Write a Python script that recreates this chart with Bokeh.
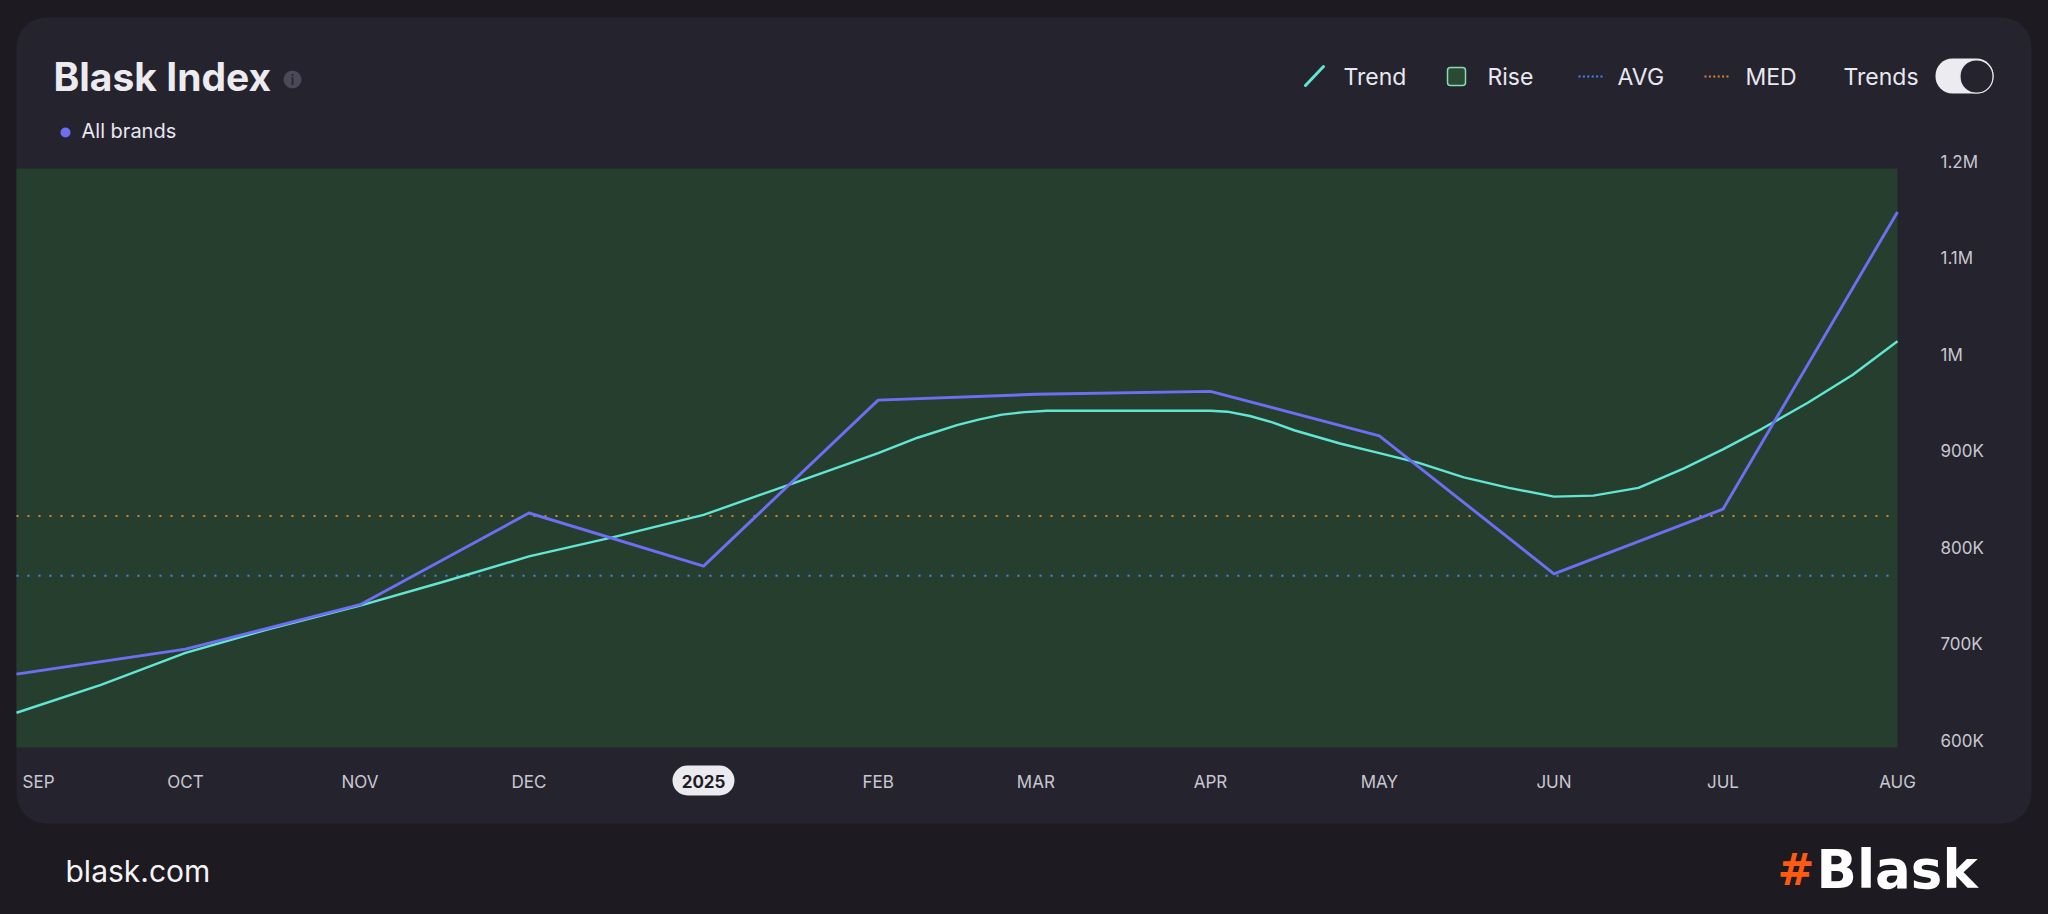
import datetime as dt
from bokeh.plotting import figure
from bokeh.models import Range1d, BoxAnnotation, Label
from bokeh.core.properties import value
from bokeh.embed import file_html
from bokeh.resources import INLINE

# ---------------- data ----------------
month_dates = ["2024-09-01", "2024-10-01", "2024-11-01", "2024-12-01", "2025-01-01",
               "2025-02-01", "2025-03-01", "2025-04-01", "2025-05-01", "2025-06-01",
               "2025-07-01", "2025-08-01"]
month_labels = ["SEP", "OCT", "NOV", "DEC", "2025", "FEB", "MAR", "APR", "MAY",
                "JUN", "JUL", "AUG"]
all_brands = [676000, 702000, 748000, 843000, 788000, 960000, 966000, 969000,
              923000, 780000, 847000, 1155000]

trend_dates = ["2024-09-01", "2024-09-16", "2024-10-01", "2024-10-16", "2024-11-01",
               "2024-11-16", "2024-12-01", "2024-12-16", "2025-01-01", "2025-01-16",
               "2025-02-01", "2025-02-08", "2025-02-15", "2025-02-19", "2025-02-23",
               "2025-02-27", "2025-03-03", "2025-03-16", "2025-04-01", "2025-04-04",
               "2025-04-08", "2025-04-12", "2025-04-16", "2025-04-24", "2025-05-01",
               "2025-05-08", "2025-05-16", "2025-05-24", "2025-06-01", "2025-06-08",
               "2025-06-16", "2025-06-24", "2025-07-01", "2025-07-08", "2025-07-16",
               "2025-07-24", "2025-08-01"]
trend_values = [636000, 665000, 698000, 723000, 747000, 772000, 798000, 818000,
                841000, 872000, 905000, 921000, 934000, 940000, 945000, 947500,
                949000, 949000, 949000, 948000, 943500, 937000, 928500, 915000,
                905000, 895000, 880000, 869000, 860000, 861000, 869000, 889000,
                909000, 930500, 957000, 986000, 1021000]

avg_value = 778000
med_value = 840000

y_min, y_max = 600000, 1200000
y_ticks = [600000, 700000, 800000, 900000, 1000000, 1100000, 1200000]
y_tick_labels = ["600K", "700K", "800K", "900K", "1M", "1.1M", "1.2M"]

# ---------------- styling ----------------
PAGE_BG = "#1d1a21"
CARD_BG = "#25232d"
GREEN = "#263e2e"
PURPLE = "#6d6ff3"
CYAN = "#62e6d4"
AVG_C = "#3f86f5"
MED_C = "#d9832a"
TXT = "#e9e7ef"
AXIS_TXT = "#c9c7d1"
FONT = "Inter"

W, H = 2040, 906              # canvas (page pixels, canvas at page origin)
PLOT_L, PLOT_R = 16, 1897     # rise/plot area in page pixels
PLOT_T, PLOT_B = 168, 747


def ms(s):
    return (dt.datetime.fromisoformat(s) - dt.datetime(1970, 1, 1)).total_seconds() * 1000.0


month_x = [ms(d) for d in month_dates]
trend_x = [ms(d) for d in trend_dates]

# scales: the frame is the whole canvas, the plot area lies inside it
mpp = (month_x[-1] - month_x[0]) / (PLOT_R - PLOT_L)
vpp = (y_max - y_min) / (PLOT_B - PLOT_T)
x_range = Range1d(month_x[0] - PLOT_L * mpp, month_x[0] + (W - PLOT_L) * mpp)
y_range = Range1d(y_min - (H - PLOT_B) * vpp, y_max + PLOT_T * vpp)

p = figure(x_range=x_range, y_range=y_range, width=W, height=H,
           frame_width=W, frame_height=H, min_border=0,
           x_axis_location=None, y_axis_location=None,
           output_backend="svg", toolbar_location=None)
p.border_fill_color = PAGE_BG
p.background_fill_color = PAGE_BG
p.outline_line_color = None
p.grid.visible = False
p.extra_x_ranges = {"px": Range1d(0, W)}
p.extra_y_ranges = {"py": Range1d(H, 0)}

# card
p.add_layout(BoxAnnotation(left=16, right=2031, top=17, bottom=823, x_range_name="px",
                           y_range_name="py", fill_color=CARD_BG, fill_alpha=1,
                           line_color=None, border_radius=30, level="underlay"))
# year pill (under the tick label text)
p.add_layout(BoxAnnotation(left=672, right=734, top=765, bottom=795, x_range_name="px",
                           y_range_name="py", fill_color="#ebebef", fill_alpha=1,
                           line_color=None, border_radius=15, level="underlay"))

# rise area (whole period)
p.quad(left=[month_x[0]], right=[month_x[-1]], bottom=[y_min], top=[y_max],
       fill_color=GREEN, line_color=None)

# reference lines
p.line([month_x[0], month_x[-1]], [med_value, med_value], line_color=MED_C,
       line_width=2, line_dash="2 9")
p.line([month_x[0], month_x[-1]], [avg_value, avg_value], line_color=AVG_C,
       line_width=2, line_dash="2 9")

# series
p.line(trend_x, trend_values, line_color=CYAN, line_width=2.4, line_join="round")
p.line(month_x, all_brands, line_color=PURPLE, line_width=2.9, line_join="round")

# x tick labels
LBL_Y = 781
idx = [i for i in range(len(month_x)) if i not in (0, 4)]
p.text(x=[month_x[i] for i in idx], y=[LBL_Y] * len(idx),
       text=[month_labels[i] for i in idx], y_range_name="py",
       text_align="center", text_baseline="middle", text_color=AXIS_TXT,
       text_font=value(FONT), text_font_size="17px")
p.text(x=[month_x[0]], y=[LBL_Y], text=[month_labels[0]], y_range_name="py",
       x_offset=6, text_align="left", text_baseline="middle", text_color=AXIS_TXT,
       text_font=value(FONT), text_font_size="17px")
p.text(x=[month_x[4]], y=[LBL_Y], text=[month_labels[4]], y_range_name="py",
       text_align="center", text_baseline="middle", text_color="#1f1d26",
       text_font=value(FONT), text_font_size="17px", text_font_style="bold")

# y tick labels (right side)
p.text(x=[1940] * len(y_ticks), y=y_ticks, text=y_tick_labels, x_range_name="px",
       y_offset=-7, text_align="left", text_baseline="middle", text_color=AXIS_TXT,
       text_font=value(FONT), text_font_size="17px")


def px_label(x, y, text, size, color=TXT, style="normal", align="left", font=FONT):
    p.add_layout(Label(x=x, y=y, x_range_name="px", y_range_name="py", text=text,
                       text_align=align, text_baseline="middle", text_color=color,
                       text_font=font, text_font_size=size, text_font_style=style))


def px_box(l, r, t, b, color, radius=0, line=None, lw=1):
    p.add_layout(BoxAnnotation(left=l, right=r, top=t, bottom=b, x_range_name="px",
                               y_range_name="py", fill_color=color, fill_alpha=1,
                               line_color=line, line_width=lw, line_alpha=1,
                               border_radius=int(radius)))


# title block
px_label(53, 76, "Blask Index", "39px", color="#ecebf0", style="bold")
px_box(283, 301, 70, 88, "#4b4957", radius=9)
px_label(292, 79.5, "i", "13px", color="#2a2832", style="bold", align="center")
px_box(60, 70, 127, 137, PURPLE, radius=5)
px_label(81, 130, "All brands", "20px")

# top-right legend
p.line([1305, 1323], [85, 66], x_range_name="px", y_range_name="py",
       line_color=CYAN, line_width=3, line_cap="round")
px_label(1343, 76, "Trend", "23px")
px_box(1447, 1465, 67, 85, "#2b4a36", radius=3, line="#86dcae", lw=1.5)
px_label(1487, 76, "Rise", "23px")
for i in range(6):
    c = 1579 + 4.4 * i
    px_box(c - 1, c + 1, 75, 77, AVG_C)
px_label(1617, 76, "AVG", "23px")
for i in range(6):
    c = 1705 + 4.4 * i
    px_box(c - 1, c + 1, 75, 77, MED_C)
px_label(1745, 76, "MED", "23px")
px_label(1843, 76, "Trends", "23px")
px_box(1935, 1993, 58, 93, "#ebebf0", radius=17)
px_box(1959.5, 1992.5, 59.5, 92.5, CARD_BG, radius=16, line="#e8e8ee", lw=1.2)

# footer
px_label(65, 870, "blask.com", "30px", color="#f4f4f6")
px_label(1777, 869, "#", "44px", color="#ff5a12", style="bold", font="DejaVu Sans")
px_label(1816, 869, "Blask", "53px", color="#ffffff", style="bold", font="DejaVu Sans")

html = file_html(p, INLINE, title="Blask Index")
html = html.replace("<head>", "<head><style>html,body{background:#1d1a21;}</style>", 1)
open("out.html", "w").write(html)
